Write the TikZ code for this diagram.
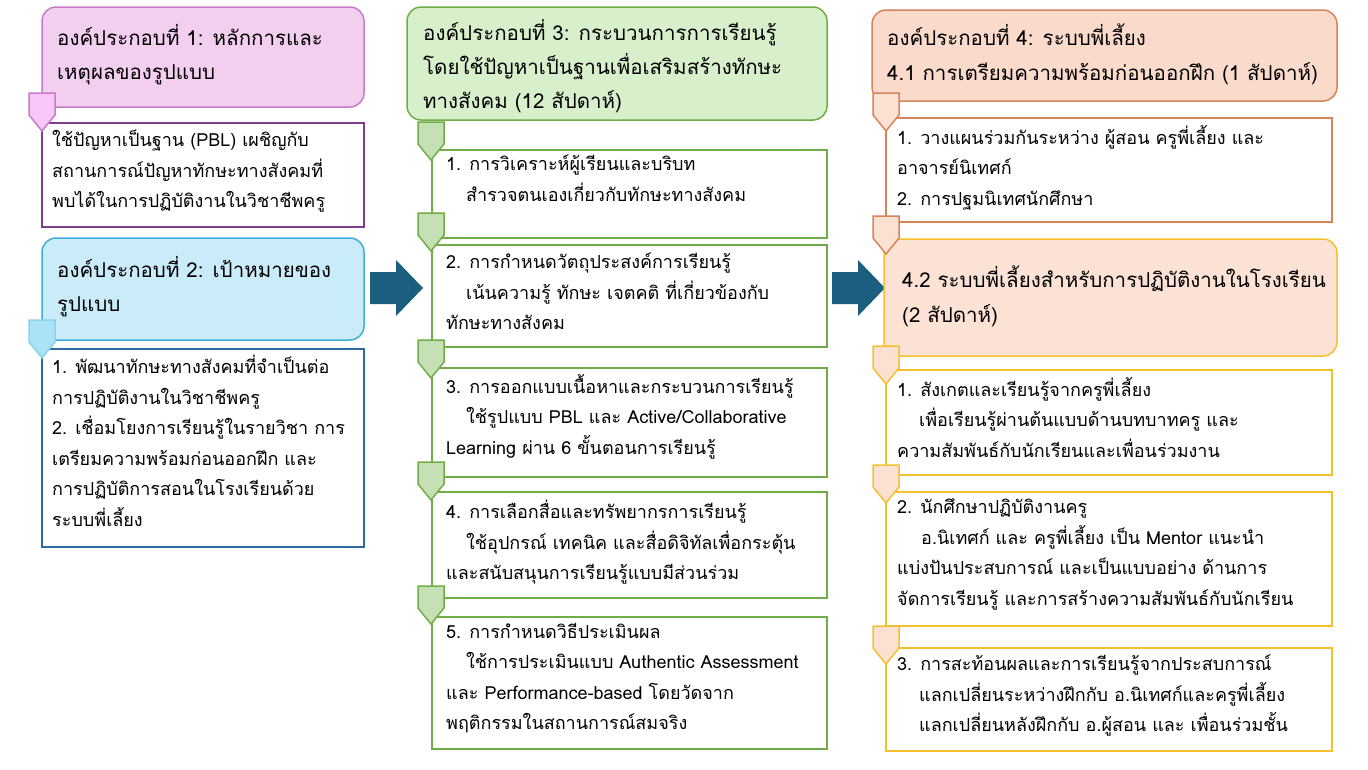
\documentclass[tikz,border=0pt]{standalone}
\usepackage{fontspec}
\usepackage{tikz}
\usetikzlibrary{arrows.meta, positioning, calc}
\newfontfamily\thaifont[Script=Thai]{Loma}
\definecolor{pinkfill}{HTML}{F2CEEF}
\definecolor{pinkline}{HTML}{C77BC8}
\definecolor{pinkmark}{HTML}{F9C6F7}
\definecolor{purpleline}{HTML}{7B3F8E}
\definecolor{bluefill}{HTML}{CAECF8}
\definecolor{blueline}{HTML}{3BB1DB}
\definecolor{bluemark}{HTML}{ACE2F5}
\definecolor{navyline}{HTML}{2E6DA4}
\definecolor{greenfill}{HTML}{D8EFCB}
\definecolor{greenline}{HTML}{70AD47}
\definecolor{greenmark}{HTML}{C5E0B4}
\definecolor{peachfill}{HTML}{FADBCB}
\definecolor{peachline}{HTML}{D8845A}
\definecolor{peachmark}{HTML}{FBE1D2}
\definecolor{yellowline}{HTML}{F4C12E}
\definecolor{arrowblue}{HTML}{1B5E7E}
\newcommand{\stepmark}[4]{% x, y, fill, draw
  \filldraw[fill=#3, draw=#4, line width=1.5pt]
    (#1,#2) -- ++(26,0) -- ++(0,22) -- ++(-13,16) -- ++(-13,-16) -- cycle;}
\newcommand{\bigarrow}[2]{%
  \fill[arrowblue] (#1,#2+12) -- ++(26,0) -- ++(0,-12) -- ++(27,28)
    -- ++(-27,28) -- ++(0,-12) -- ++(-26,0) -- cycle;}
\begin{document}
\begin{tikzpicture}[
    x=1pt, y=-1pt,
    head/.style={draw=#1, rounded corners=14pt, line width=1.5pt},
    body/.style={draw=#1, fill=white, line width=1.2pt},
    txt/.style={anchor=north west, inner sep=0pt, align=left, text=black,
      font=\thaifont\fontsize{18}{30.5}\selectfont},
    htxt/.style={txt, font=\thaifont\fontsize{20.5}{34.3}\selectfont}
]
\useasboundingbox (0,0) rectangle (1368,769);

% column 1
\draw[head=pinkline, fill=pinkfill] (42,7) rectangle (364,107);
\node[htxt] (h1) at (57,24) {องค์ประกอบที่ 1: หลักการและ\\เหตุผลของรูปแบบ};
\draw[body=purpleline] (42,123) rectangle (364,227);
\stepmark{29}{93}{pinkmark}{pinkline}
\node[txt] (b1) at (52,130) {ใช้ปัญหาเป็นฐาน (PBL) เผชิญกับ\\สถานการณ์ปัญหาทักษะทางสังคมที่\\พบได้ในการปฏิบัติงานในวิชาชีพครู};

\draw[head=blueline, fill=bluefill] (42,238) rectangle (364,340);
\node[htxt] (h2) at (57,256) {องค์ประกอบที่ 2: เป้าหมายของ\\รูปแบบ};
\draw[body=navyline] (42,349) rectangle (364,547);
\stepmark{29}{320}{bluemark}{bluemark!70!blueline}
\node[txt] (b2) at (52,355) {1. พัฒนาทักษะทางสังคมที่จำเป็นต่อ\\การปฏิบัติงานในวิชาชีพครู\\2. เชื่อมโยงการเรียนรู้ในรายวิชา การ\\เตรียมความพร้อมก่อนออกฝึก และ\\การปฏิบัติการสอนในโรงเรียนด้วย\\ระบบพี่เลี้ยง};

\bigarrow{370}{260}

% column 2
\draw[head=greenline, fill=greenfill] (407,7) rectangle (827,120);
\node[htxt] (h3) at (423,19) {องค์ประกอบที่ 3: กระบวนการการเรียนรู้\\โดยใช้ปัญหาเป็นฐานเพื่อเสริมสร้างทักษะ\\ทางสังคม (12 สัปดาห์)};
\draw[body=greenline] (432,150) rectangle (827,238);
\draw[body=greenline] (432,245) rectangle (827,347);
\draw[body=greenline] (432,368) rectangle (827,477);
\draw[body=greenline] (432,492) rectangle (827,598);
\draw[body=greenline] (432,617) rectangle (827,749);
\foreach \y in {122,213,340,462,586} {\stepmark{418}{\y}{greenmark}{greenline}}
\node[txt] (s1) at (446,155) {1. การวิเคราะห์ผู้เรียนและบริบท\\\hspace*{20pt}สำรวจตนเองเกี่ยวกับทักษะทางสังคม};
\node[txt] (s2) at (446,253) {2. การกำหนดวัตถุประสงค์การเรียนรู้\\\hspace*{20pt}เน้นความรู้ ทักษะ เจตคติ ที่เกี่ยวข้องกับ\\ทักษะทางสังคม};
\node[txt] (s3) at (446,374) {3. การออกแบบเนื้อหาและกระบวนการเรียนรู้\\\hspace*{20pt}ใช้รูปแบบ PBL และ Active/Collaborative\\Learning ผ่าน 6 ขั้นตอนการเรียนรู้};
\node[txt] (s4) at (446,500) {4. การเลือกสื่อและทรัพยากรการเรียนรู้\\\hspace*{20pt}ใช้อุปกรณ์ เทคนิค และสื่อดิจิทัลเพื่อกระตุ้น\\และสนับสนุนการเรียนรู้แบบมีส่วนร่วม};
\node[txt] (s5) at (446,623) {5. การกำหนดวิธีประเมินผล\\\hspace*{20pt}ใช้การประเมินแบบ Authentic Assessment\\และ Performance-based โดยวัดจาก\\พฤติกรรมในสถานการณ์สมจริง};

\bigarrow{832}{260}

% column 3
\draw[head=peachline, fill=peachfill] (872,10) rectangle (1337,101);
\node[htxt] (h4) at (887,24) {องค์ประกอบที่ 4: ระบบพี่เลี้ยง\\4.1 การเตรียมความพร้อมก่อนออกฝึก (1 สัปดาห์)};
\draw[body=peachline] (886,118) rectangle (1332,222);
\stepmark{873}{93}{peachmark}{peachline}
\node[txt] (p1) at (897,125) {1. วางแผนร่วมกันระหว่าง ผู้สอน ครูพี่เลี้ยง และ\\อาจารย์นิเทศก์\\2. การปฐมนิเทศนักศึกษา};
\draw[head=yellowline, fill=peachfill!80!white] (884,239) rectangle (1337,356);
\stepmark{873}{216}{peachmark}{peachline}
\node[htxt] (h5) at (902,266) {4.2 ระบบพี่เลี้ยงสำหรับการปฏิบัติงานในโรงเรียน\\(2 สัปดาห์)};
\draw[body=yellowline] (886,370) rectangle (1332,475);
\draw[body=yellowline] (886,492) rectangle (1332,626);
\draw[body=yellowline] (886,648) rectangle (1332,751);
\foreach \y in {346,465,626} {\stepmark{873}{\y}{peachmark}{yellowline}}
\node[txt] (m1) at (897,377) {1. สังเกตและเรียนรู้จากครูพี่เลี้ยง\\\hspace*{22pt}เพื่อเรียนรู้ผ่านต้นแบบด้านบทบาทครู และ\\ความสัมพันธ์กับนักเรียนและเพื่อนร่วมงาน};
\node[txt] (m2) at (897,499) {2. นักศึกษาปฏิบัติงานครู\\\hspace*{24pt}อ.นิเทศก์ และ ครูพี่เลี้ยง เป็น Mentor แนะนำ\\แบ่งปันประสบการณ์ และเป็นแบบอย่าง ด้านการ\\จัดการเรียนรู้ และการสร้างความสัมพันธ์กับนักเรียน};
\node[txt] (m3) at (897,655) {3. การสะท้อนผลและการเรียนรู้จากประสบการณ์\\\hspace*{22pt}แลกเปลี่ยนระหว่างฝึกกับ อ.นิเทศก์และครูพี่เลี้ยง\\\hspace*{22pt}แลกเปลี่ยนหลังฝึกกับ อ.ผู้สอน และ เพื่อนร่วมชั้น};
\end{tikzpicture}
\end{document}
